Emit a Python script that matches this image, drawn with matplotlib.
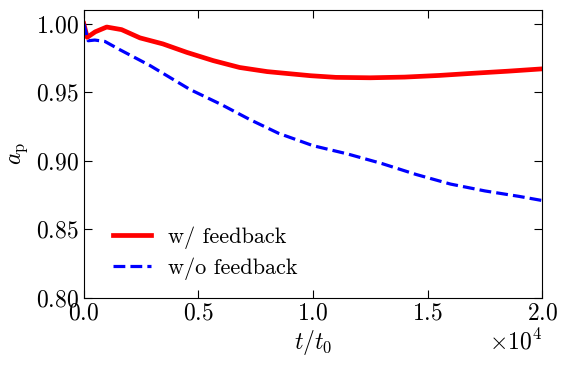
import numpy as np
import matplotlib
matplotlib.use('Agg')
import matplotlib.pyplot as plt

plt.rcParams['font.family'] = 'cmr10'
plt.rcParams['mathtext.fontset'] = 'cm'
plt.rcParams['axes.formatter.use_mathtext'] = True
plt.rcParams['font.size'] = 16
plt.rcParams['xtick.direction'] = 'in'
plt.rcParams['ytick.direction'] = 'in'
plt.rcParams['xtick.top'] = True
plt.rcParams['ytick.right'] = True

# time in units of t0
t_fb = [0, 150, 500, 1000, 1650, 2450, 3450, 4500, 5650, 6800, 8000, 9900,
        11000, 12500, 14000, 15500, 17000, 18500, 20000]
a_fb = [1.000, 0.990, 0.994, 0.9975, 0.9956, 0.9896, 0.9852, 0.979, 0.973, 0.968, 0.965, 0.962,
        0.9608, 0.9605, 0.9610, 0.9622, 0.9638, 0.9653, 0.9670]

t_nofb = [0, 190, 480, 920, 1570, 2880, 4630, 6000, 7250, 8500, 10000, 11500,
          13000, 14500, 16000, 17500, 19000, 20000]
a_nofb = [1.000, 0.9875, 0.988, 0.987, 0.981, 0.9695, 0.952, 0.941, 0.930, 0.920, 0.911, 0.905,
          0.898, 0.890, 0.883, 0.878, 0.874, 0.871]

fig, ax = plt.subplots(figsize=(5.66, 3.66), dpi=100)
fig.subplots_adjust(left=0.148, right=0.958, top=0.973, bottom=0.186)

ax.plot(t_fb, a_fb, color='red', lw=3.4, label=r'w/ feedback')
ax.plot(t_nofb, a_nofb, color='blue', lw=2.3, ls='--', label=r'w/o feedback')

ax.set_xlim(0, 20000)
ax.set_ylim(0.80, 1.01)
ax.set_xticks([0, 5000, 10000, 15000, 20000])
ax.set_yticks([0.80, 0.85, 0.90, 0.95, 1.00])
ax.ticklabel_format(axis='x', style='sci', scilimits=(0, 0))
ax.tick_params(length=6, width=0.8, labelsize=17)
ax.xaxis.get_offset_text().set_fontsize(17)
ax.set_xlabel(r'$t/t_0$', fontsize=17, labelpad=2)
ax.set_ylabel(r'$a_{\rm p}$', fontsize=17)
ax.legend(loc='lower left', frameon=False, bbox_to_anchor=(0.02, -0.008),
          handlelength=1.7, fontsize=16, labelspacing=0.4, handletextpad=0.8)

fig.savefig('out.png')
